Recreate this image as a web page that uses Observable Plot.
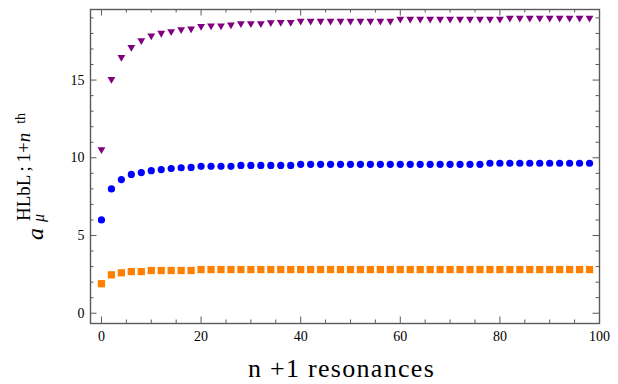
<!DOCTYPE html>
<html>
<head>
<meta charset="utf-8">
<script src="https://cdn.jsdelivr.net/npm/d3@7"></script>
<script src="https://cdn.jsdelivr.net/npm/@observablehq/plot@0.6"></script>
<style>
  html, body { margin: 0; padding: 0; background: white; }
  #chart svg { display: block; }
  #chart svg text, #chart svg tspan { font-family: 'Liberation Serif', 'Times New Roman', serif !important; }
</style>
</head>
<body>
<div id="chart"></div>
<script>
// number of resonances (n+1) on the x axis
const nValues = [0, 2, 4, 6, 8, 10, 12, 14, 16, 18, 20, 22, 24, 26, 28, 30, 32, 34, 36, 38,
  40, 42, 44, 46, 48, 50, 52, 54, 56, 58, 60, 62, 64, 66, 68, 70, 72, 74, 76, 78,
  80, 82, 84, 86, 88, 90, 92, 94, 96, 98];

// purple triangles (top series)
const purpleSeries = [10.53, 15.06, 16.47, 17.11, 17.55, 17.85, 18.02, 18.13, 18.26, 18.30,
  18.46, 18.49, 18.49, 18.56, 18.64, 18.64, 18.64, 18.70, 18.72, 18.72,
  18.80, 18.80, 18.80, 18.80, 18.80, 18.80, 18.80, 18.80, 18.80, 18.80,
  18.93, 18.93, 18.93, 18.93, 18.93, 18.93, 18.93, 18.93, 18.93, 18.93,
  18.93, 19.00, 19.00, 19.00, 19.00, 19.00, 19.00, 19.00, 19.00, 19.00];

// blue circles (middle series)
const blueSeries = [6.00, 8.00, 8.60, 8.93, 9.05, 9.17, 9.24, 9.31, 9.36, 9.38,
  9.45, 9.45, 9.45, 9.45, 9.51, 9.51, 9.51, 9.51, 9.51, 9.51,
  9.58, 9.58, 9.58, 9.58, 9.58, 9.58, 9.58, 9.58, 9.58, 9.58,
  9.58, 9.58, 9.58, 9.58, 9.58, 9.58, 9.58, 9.58, 9.58, 9.65,
  9.65, 9.65, 9.65, 9.65, 9.65, 9.65, 9.65, 9.65, 9.65, 9.65];

// orange squares (bottom series)
const orangeSeries = [1.90, 2.47, 2.60, 2.68, 2.68, 2.75, 2.75, 2.75, 2.75, 2.75,
  2.81, 2.81, 2.81, 2.81, 2.81, 2.81, 2.81, 2.81, 2.81, 2.81,
  2.81, 2.81, 2.81, 2.81, 2.81, 2.81, 2.81, 2.81, 2.81, 2.81,
  2.81, 2.81, 2.81, 2.81, 2.81, 2.81, 2.81, 2.81, 2.81, 2.81,
  2.81, 2.81, 2.81, 2.81, 2.81, 2.81, 2.81, 2.81, 2.81, 2.81];

// tick values
const xMajorTicks = [0, 20, 40, 60, 80, 100];
const xMinorTicks = [5, 10, 15, 25, 30, 35, 45, 50, 55, 65, 70, 75, 85, 90, 95];
const yMajorTicks = [0, 5, 10, 15];
const yMinorTicks = [1, 2, 3, 4, 6, 7, 8, 9, 11, 12, 13, 14, 16, 17, 18, 19];

const xLabel = "n +1 resonances";

const W = 618, H = 384;
const mL = 90, mR = 19, mT = 9, mB = 61;
const innerW = W - mL - mR, innerH = H - mT - mB;
const frameColor = "#5a5a5a";
const serif = "'Liberation Serif', 'Times New Roman', serif";
const majLen = 6.5, minLen = 3.5;

const rows = (series) => nValues.map((n, i) => ({n, v: series[i]}));

const tickXMarks = (vals, len) => [
  Plot.tickX(vals, {x: d => d, insetTop: innerH - len, stroke: frameColor, strokeWidth: 1}),
  Plot.tickX(vals, {x: d => d, insetBottom: innerH - len, stroke: frameColor, strokeWidth: 1})
];
const tickYMarks = (vals, len) => [
  Plot.tickY(vals, {y: d => d, insetRight: innerW - len, stroke: frameColor, strokeWidth: 1}),
  Plot.tickY(vals, {y: d => d, insetLeft: innerW - len, stroke: frameColor, strokeWidth: 1})
];

const chart = Plot.plot({
  width: W,
  height: H,
  marginLeft: mL,
  marginRight: mR,
  marginTop: mT,
  marginBottom: mB,
  style: {background: "white", color: "black"},
  x: {domain: [-2.2, 100], label: null},
  y: {domain: [-0.66, 19.54], label: null},
  marks: [
    ...tickXMarks(xMajorTicks, majLen),
    ...tickXMarks(xMinorTicks, minLen),
    ...tickYMarks(yMajorTicks, majLen),
    ...tickYMarks(yMinorTicks, minLen),
    Plot.axisX(xMajorTicks, {tickSize: 0, tickPadding: 8, label: null, fill: "black", fontSize: 14}),
    Plot.axisY(yMajorTicks, {tickSize: 0, tickPadding: 6, label: null, fill: "black", fontSize: 14}),
    Plot.dot(rows(orangeSeries), {x: "n", y: "v", symbol: "square", r: 4.1, fill: "#ff8000", stroke: "none"}),
    Plot.dot(rows(blueSeries), {x: "n", y: "v", symbol: "circle", r: 3.6, fill: "#0000ff", stroke: "none"}),
    Plot.dot(rows(purpleSeries), {x: "n", y: "v", symbol: "triangle", rotate: 180, r: 2.9, fill: "#800080", stroke: "none"}),
    Plot.frame({stroke: frameColor, strokeWidth: 1.4})
  ]
});

const svg = d3.select(chart);
svg.attr("font-family", serif);
svg.selectAll("text").attr("font-family", serif);

// x axis title
svg.append("text")
  .attr("x", 341.5)
  .attr("y", 377)
  .attr("text-anchor", "middle")
  .attr("font-size", 26)
  .attr("letter-spacing", "1.3px")
  .attr("fill", "black")
  .text(xLabel);

// y axis title: a_mu^{HLbL ; 1+n th}
const g = svg.append("g").attr("transform", "translate(43,240) rotate(-90)")
  .attr("text-anchor", "start").attr("fill", "black");
g.append("text").attr("x", 0).attr("y", 0).attr("font-size", 24).attr("font-style", "italic").text("a");
g.append("text").attr("x", 18).attr("y", 1).attr("font-size", 16).attr("font-style", "italic").text("μ");
const sup = g.append("text").attr("x", 19).attr("y", -13).attr("font-size", 19).attr("word-spacing", "-1px");
sup.append("tspan").text("HLbL ; 1+");
sup.append("tspan").attr("font-style", "italic").text("n");
sup.append("tspan").attr("dx", 9).attr("dy", -5).attr("font-size", 14).text("th");

document.getElementById("chart").appendChild(chart);
</script>
</body>
</html>
